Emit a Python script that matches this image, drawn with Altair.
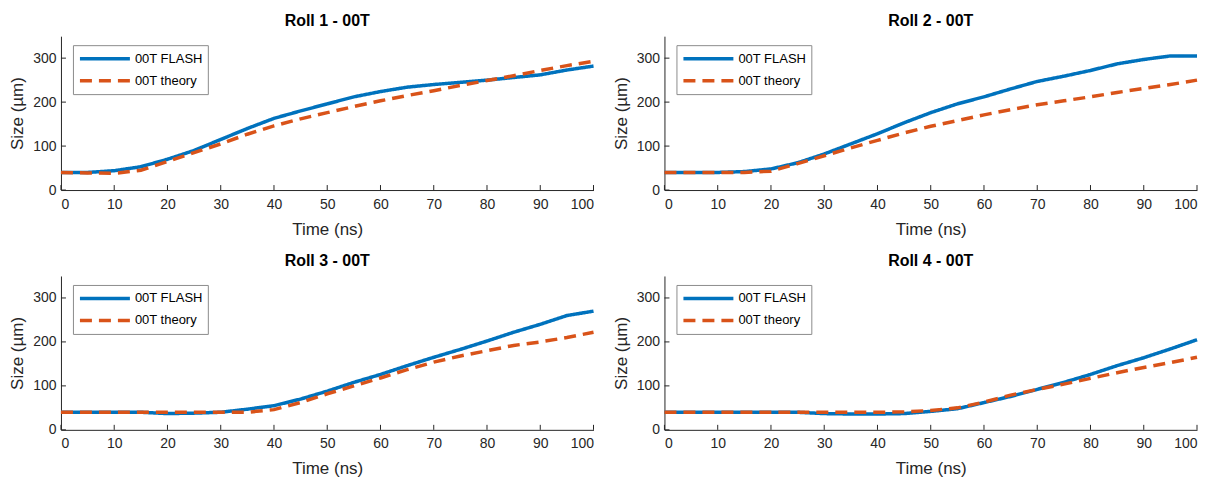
import altair as alt
import pandas as pd

times = [0, 5, 10, 15, 20, 25, 30, 35, 40, 45, 50, 55, 60, 65, 70, 75, 80, 85, 90, 95, 100]

roll1_flash = [40, 40, 44, 53, 70, 90, 115, 140, 163, 180, 196, 212, 224, 234, 240, 245, 250, 256, 262, 273, 282]
roll1_theory = [40, 39, 38, 45, 65, 85, 105, 127, 146, 162, 176, 190, 203, 215, 226, 238, 249, 260, 272, 283, 293]

roll2_flash = [40, 40, 40, 42, 48, 62, 82, 105, 128, 153, 176, 196, 212, 230, 247, 259, 272, 287, 297, 305, 305]
roll2_theory = [40, 40, 40, 40, 43, 60, 78, 96, 113, 130, 145, 158, 171, 183, 194, 203, 212, 222, 231, 240, 250]

roll3_flash = [40, 40, 40, 40, 37, 38, 40, 47, 55, 70, 88, 108, 126, 146, 165, 183, 202, 222, 240, 260, 270]
roll3_theory = [40, 40, 40, 40, 40, 40, 40, 40, 46, 62, 82, 100, 118, 137, 154, 168, 180, 192, 200, 210, 222]

roll4_flash = [40, 40, 40, 40, 40, 40, 37, 36, 36, 37, 42, 48, 62, 76, 92, 108, 126, 146, 164, 184, 205]
roll4_theory = [40, 40, 40, 40, 40, 40, 40, 40, 40, 41, 44, 50, 63, 79, 92, 104, 117, 130, 142, 153, 165]

titles = ["Roll 1 - 00T", "Roll 2 - 00T", "Roll 3 - 00T", "Roll 4 - 00T"]
series_names = ["00T FLASH", "00T theory"]
x_ticks = [0, 10, 20, 30, 40, 50, 60, 70, 80, 90, 100]
y_ticks = [0, 100, 200, 300]

flash_all = [roll1_flash, roll2_flash, roll3_flash, roll4_flash]
theory_all = [roll1_theory, roll2_theory, roll3_theory, roll4_theory]

W, H = 533, 154
FONT = "Liberation Sans, Arial, sans-serif"
AX = "#262626"


def panel(i):
    rows = []
    for t, f, th in zip(times, flash_all[i], theory_all[i]):
        rows.append({"t": t, "v": f, "s": series_names[0]})
        rows.append({"t": t, "v": th, "s": series_names[1]})
    df = pd.DataFrame(rows)
    xs = alt.Scale(domain=[0, 100], nice=False)
    ys = alt.Scale(domain=[0, 350], nice=False)
    common = dict(tickSize=0, grid=False, labelFont=FONT, labelFontSize=14, labelColor=AX,
                  titleFont=FONT, titleFontSize=17, titleColor=AX, titleFontWeight="normal",
                  domainColor=AX)
    xaxis = alt.Axis(values=x_ticks, labelPadding=7, titlePadding=10, **common)
    yaxis = alt.Axis(values=y_ticks, labelPadding=5, titlePadding=6, **common)
    lines = alt.Chart(df).mark_line(strokeWidth=3.5).encode(
        x=alt.X("t:Q", scale=xs, title="Time (ns)", axis=xaxis),
        y=alt.Y("v:Q", scale=ys, title="Size (µm)", axis=yaxis),
        color=alt.Color("s:N", scale=alt.Scale(domain=series_names, range=["#0072BD", "#D95319"]),
                        legend=alt.Legend(title=None, orient="none", legendX=12, legendY=9,
                                          symbolType="stroke", symbolSize=2500, symbolStrokeWidth=3.5,
                                          clipHeight=17,
                                          labelFont=FONT, labelFontSize=13, labelColor="#000000",
                                          fillColor="white", strokeColor="#8c8c8c", padding=5,
                                          rowPadding=5, labelOffset=3)),
        strokeDash=alt.StrokeDash("s:N", scale=alt.Scale(domain=series_names, range=[[1, 0], [12, 7]]),
                                  legend=None),
    )
    xt = alt.Chart(pd.DataFrame({"t": x_ticks})).mark_rule(color=AX, strokeWidth=1).encode(
        x=alt.X("t:Q", scale=xs), y=alt.value(H), y2=alt.value(H - 5))
    yt = alt.Chart(pd.DataFrame({"v": y_ticks})).mark_rule(color=AX, strokeWidth=1).encode(
        y=alt.Y("v:Q", scale=ys), x=alt.value(0), x2=alt.value(5))
    return alt.layer(lines, xt, yt).properties(
        width=W, height=H,
        title=alt.Title(titles[i], font=FONT, fontSize=16, fontWeight="bold", color="#000000", offset=7),
    )


row1 = alt.hconcat(panel(0), panel(1), spacing=11).resolve_scale(color="independent", strokeDash="independent")
row2 = alt.hconcat(panel(2), panel(3), spacing=11).resolve_scale(color="independent", strokeDash="independent")
chart = alt.vconcat(row1, row2, spacing=16).resolve_scale(
    color="independent", strokeDash="independent"
).properties(
    padding={"top": 5, "left": 0, "right": 0, "bottom": 0}
).configure_view(stroke=None)

chart.save("out.html", embed_options={"renderer": "svg", "actions": False})
